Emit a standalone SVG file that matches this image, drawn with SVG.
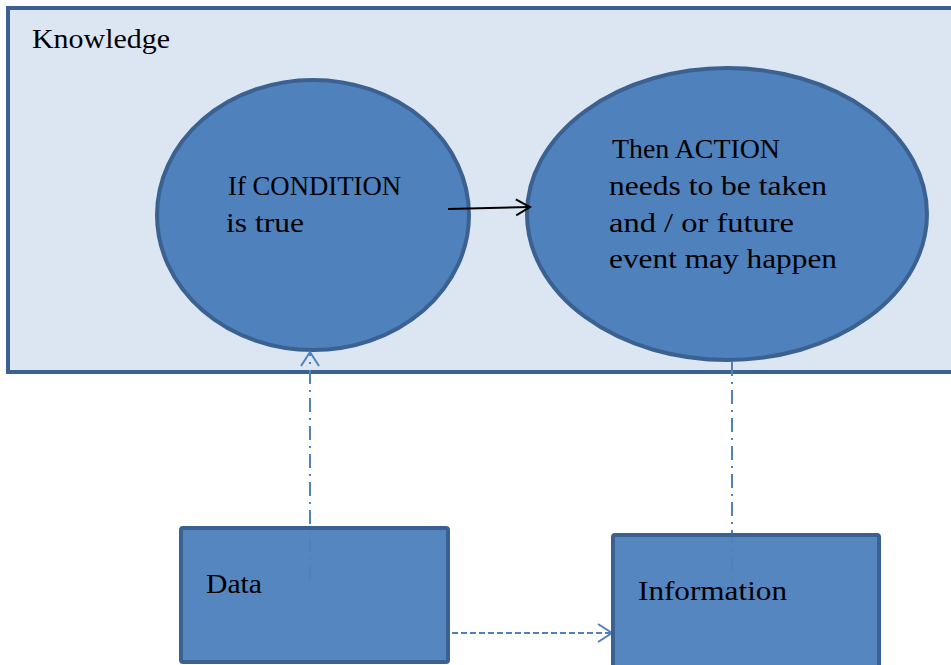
<svg xmlns="http://www.w3.org/2000/svg" width="951" height="665" viewBox="0 0 951 665">
<style>
.t{font-family:"Liberation Serif","DejaVu Serif",serif;font-size:28px;fill:#000}
.node{fill:#4f81bd;stroke:#3b6190;stroke-width:4}
.box{fill:#4f81bd;fill-opacity:0.96;stroke:#3b6190;stroke-width:4}
.dd{fill:none;stroke:#4f81bd;stroke-width:2;stroke-dasharray:14,6,2,6}
</style>
<defs>
<marker id="ab" markerWidth="18" markerHeight="20" refX="16" refY="10" orient="auto" markerUnits="userSpaceOnUse">
<path d="M2,2 L16,10 L2,18" fill="none" stroke="#000" stroke-width="2"/>
</marker>
<marker id="abl" markerWidth="18" markerHeight="22" refX="16" refY="11" orient="auto" markerUnits="userSpaceOnUse">
<path d="M2,2 L16,11 L2,20" fill="none" stroke="#4f81bd" stroke-width="2"/>
</marker>
</defs>
<rect width="951" height="665" fill="#fff"/>
<g id="knowledge">
<rect x="8" y="8" width="950" height="364" fill="#dce6f2" stroke="#3b6190" stroke-width="4"/>
<text class="t" x="32" y="48" textLength="138" lengthAdjust="spacingAndGlyphs">Knowledge</text>
</g>
<g id="condition">
<ellipse class="node" cx="313" cy="215" rx="156" ry="135"/>
<text class="t" x="228" y="195" textLength="173" lengthAdjust="spacingAndGlyphs">If CONDITION</text>
<text class="t" x="226" y="232" textLength="78" lengthAdjust="spacingAndGlyphs">is true</text>
</g>
<g id="action">
<ellipse class="node" cx="727" cy="214" rx="200" ry="146"/>
<text class="t" x="612" y="158" textLength="168" lengthAdjust="spacingAndGlyphs">Then ACTION</text>
<text class="t" x="609" y="195" textLength="218" lengthAdjust="spacingAndGlyphs">needs to be taken</text>
<text class="t" x="609" y="232" textLength="185" lengthAdjust="spacingAndGlyphs">and / or future</text>
<text class="t" x="609" y="268" textLength="228" lengthAdjust="spacingAndGlyphs">event may happen</text>
</g>
<g id="connectors">
<line x1="448" y1="209" x2="530" y2="207" stroke="#000" stroke-width="2" marker-end="url(#ab)"/>
<line class="dd" x1="310" y1="580" x2="310" y2="352" marker-end="url(#abl)"/>
<line class="dd" x1="732" y1="362" x2="732" y2="600" marker-end="url(#abl)"/>
<line x1="452" y1="633" x2="612" y2="633" fill="none" stroke="#4f81bd" stroke-width="2" stroke-dasharray="6,3" marker-end="url(#abl)"/>
</g>
<g id="data">
<rect class="box" x="181" y="528" width="267" height="134" rx="2"/>
<text class="t" x="206" y="593" textLength="56" lengthAdjust="spacingAndGlyphs">Data</text>
</g>
<g id="information">
<rect class="box" x="613" y="535" width="266" height="140" rx="2"/>
<text class="t" x="638" y="600" textLength="149" lengthAdjust="spacingAndGlyphs">Information</text>
</g>
</svg>
